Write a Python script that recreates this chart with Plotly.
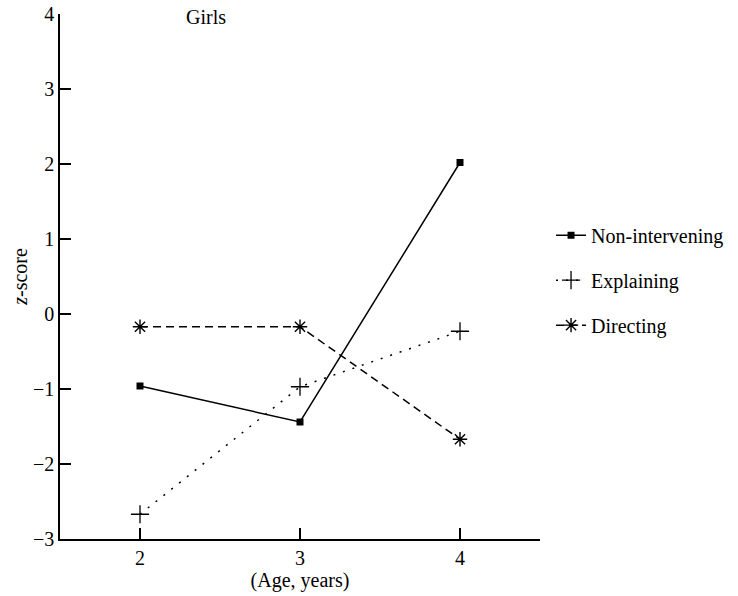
import plotly.graph_objects as go

ages = [2, 3, 4]
non_intervening = [-0.96, -1.44, 2.02]
explaining = [-2.67, -0.97, -0.23]
directing = [-0.17, -0.17, -1.67]
y_ticks = [-3, -2, -1, 0, 1, 2, 3, 4]
y_tick_text = ["\u22123", "\u22122", "\u22121", "0", "1", "2", "3", "4"]

FONT = "Liberation Serif"
FS = 20

fig = go.Figure()
fig.add_trace(go.Scatter(
    x=ages, y=non_intervening, name="Non-intervening", mode="lines+markers",
    line=dict(color="black", width=1.5, dash="solid"),
    marker=dict(symbol="square", size=7, color="black"),
    legendgroup="a"))
fig.add_trace(go.Scatter(
    x=ages, y=explaining, name="Explaining", mode="lines+markers",
    line=dict(color="black", width=1.5, dash="2px,8px"),
    marker=dict(symbol="cross-thin-open", size=13, line=dict(color="black", width=1.3)),
    legendgroup="b"))
fig.add_trace(go.Scatter(
    x=ages, y=directing, name="Directing", mode="lines+markers",
    line=dict(color="black", width=1.5, dash="8px,5px"),
    marker=dict(symbol="asterisk-open", size=12, line=dict(color="black", width=1.4)),
    legendgroup="c"))

fig.update_layout(
    width=738, height=596,
    margin=dict(l=60, r=198, t=14, b=57, autoexpand=False),
    plot_bgcolor="white", paper_bgcolor="white",
    font=dict(family=FONT, size=FS, color="black"),
    showlegend=True,
    legend=dict(x=1.023, y=0.493, xanchor="left", yanchor="middle",
                traceorder="grouped", tracegroupgap=16,
                font=dict(size=FS, family=FONT, color="black"),
                bgcolor="rgba(0,0,0,0)"),
    xaxis=dict(range=[1.5, 4.5], tickvals=ages, ticks="inside", ticklen=11,
               tickwidth=1.5, tickcolor="black", showline=True, linecolor="black",
               linewidth=1.5, showgrid=False, zeroline=False, automargin=False,
               ticklabeloverflow="allow",
               title=dict(text="(Age, years)", standoff=4,
                          font=dict(size=FS, family=FONT, color="black")),
               tickfont=dict(size=FS, family=FONT, color="black")),
    yaxis=dict(range=[-3, 4], tickvals=y_ticks, ticktext=y_tick_text, ticks="inside",
               ticklen=11, tickwidth=1.5, tickcolor="black", showline=True,
               linecolor="black", linewidth=1.5, showgrid=False, zeroline=False,
               automargin=False, ticklabeloverflow="allow",
               title=dict(text="<i>z</i>-score", standoff=0,
                          font=dict(size=FS, family=FONT, color="black")),
               tickfont=dict(size=FS, family=FONT, color="black")),
    annotations=[dict(text="Girls", x=2.41, y=3.96, xref="x", yref="y",
                      xanchor="center", yanchor="middle", showarrow=False,
                      font=dict(size=FS, family=FONT, color="black"))],
)

fig.write_html("out.html", config={"displayModeBar": False},
               post_script="document.body.style.margin='0';")
